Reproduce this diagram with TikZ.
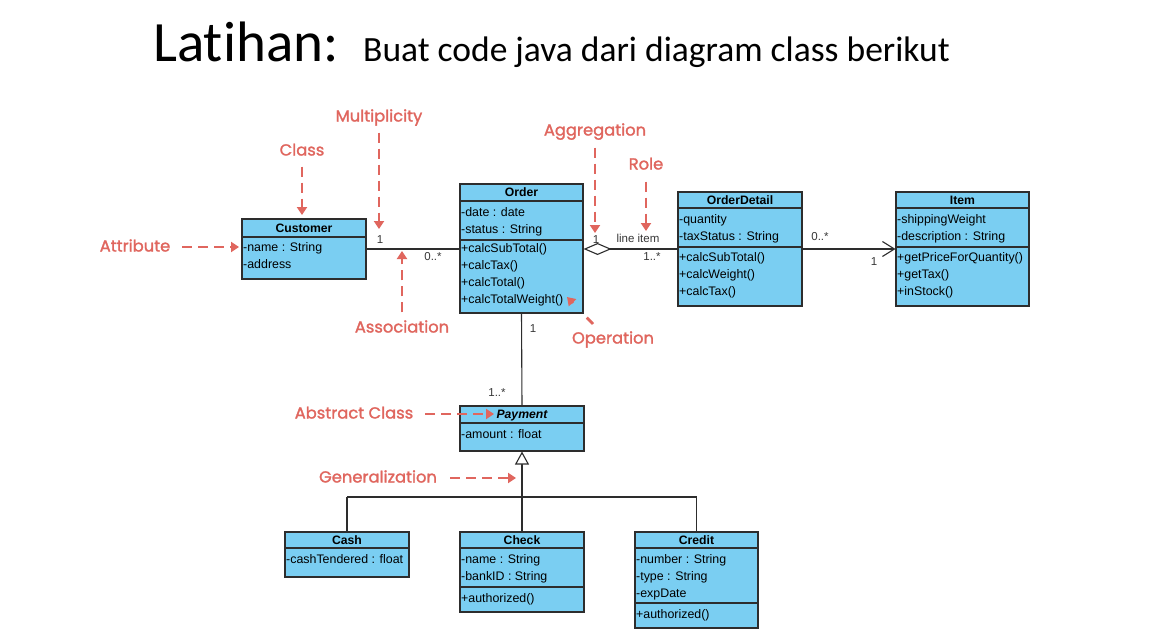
\documentclass[tikz,border=0pt]{standalone}
\usepackage{fontspec}
\setmainfont{Liberation Sans}
\newfontfamily\boxfont{Liberation Sans}
\newfontfamily\titlefont[Ligatures=NoCommon]{Carlito}
\newfontfamily\lblfont[FakeStretch=1.02, FakeBold=1.6]{Poppins}
\usetikzlibrary{arrows.meta,fit}
\definecolor{boxfill}{RGB}{122,206,242}
\definecolor{boxline}{RGB}{45,45,45}
\definecolor{annored}{RGB}{224,102,94}
\definecolor{multtext}{RGB}{55,55,55}
\newcommand\umlbox[5]{\node[cls, fit={(#2,#3) (#4,#5)}] (#1) {};}
\begin{document}
\begin{tikzpicture}[x=1pt,y=-1pt,
  cls/.style={draw=boxline, fill=boxfill, line width=1.1pt, inner sep=0pt},
  sepl/.style={draw=boxline, line width=1.1pt},
  mem/.style={font=\boxfont\fontsize{12.4}{13}\selectfont, anchor=west, inner sep=0pt, text height=8.8pt, text depth=0.6pt},
  head/.style={font=\boxfont\bfseries\fontsize{12.2}{13}\selectfont, inner sep=0pt, text height=8.8pt, text depth=0.6pt},
  mult/.style={font=\boxfont\fontsize{11.5}{12}\selectfont, text=multtext, inner sep=0pt, text height=8.3pt, text depth=0.5pt},
  conn/.style={draw=boxline, line width=1.1pt},
  lbl/.style={font=\lblfont\fontsize{16}{18}\selectfont, text=annored, inner sep=0pt, text height=12pt, text depth=3pt},
  anno/.style={draw=annored, line width=2.8pt, dash pattern=on 10pt off 6pt, -{Triangle[width=10pt,length=8pt]}}
]
\fill[white] (0,0) rectangle (1149,642);
\useasboundingbox (0,0) rectangle (1149,642);

% title
\node[font=\titlefont\fontsize{57}{60}\selectfont, anchor=base west, inner sep=0pt] (title) at (153,62) {Latihan:};
\node[font=\titlefont\fontsize{35.5}{40}\selectfont, anchor=base west, inner sep=0pt] (subtitle) at (363,62) {Buat code java dari diagram class berikut};

% Customer
\umlbox{Customer}{242}{219}{366}{279}
\node[head] (hCustomer) at (304,228) {Customer};
\draw[sepl] (242,237) -- (366,237);
\node[mem] (cu1) at (243,247) {-name : String};
\node[mem] (cu2) at (243,264) {-address};

% Order
\umlbox{Order}{460}{184}{583}{313}
\node[head] (hOrder) at (521.5,192) {Order};
\draw[sepl] (460,201) -- (583,201);
\draw[sepl] (460,240) -- (583,240);
\node[mem] (or1) at (461,212) {-date : date};
\node[mem] (or2) at (461,229) {-status : String};
\node[mem] (or3) at (461,248) {+calcSubTotal()};
\node[mem] (or4) at (461,265) {+calcTax()};
\node[mem] (or5) at (461,282) {+calcTotal()};
\node[mem] (or6) at (461,299) {+calcTotalWeight()};

% OrderDetail
\umlbox{OrderDetail}{678}{192}{802}{306}
\node[head] (hOrderDetail) at (740,200) {OrderDetail};
\draw[sepl] (678,208) -- (802,208);
\draw[sepl] (678,247) -- (802,247);
\node[mem] (od1) at (679,219) {-quantity};
\node[mem] (od2) at (679,236) {-taxStatus : String};
\node[mem] (od3) at (679,257) {+calcSubTotal()};
\node[mem] (od4) at (679,274) {+calcWeight()};
\node[mem] (od5) at (679,291) {+calcTax()};

% Item
\umlbox{Item}{896}{192}{1029}{306}
\node[head] (hItem) at (962.5,200) {Item};
\draw[sepl] (896,208) -- (1029,208);
\draw[sepl] (896,247) -- (1029,247);
\node[mem] (it1) at (897,219) {-shippingWeight};
\node[mem] (it2) at (897,236) {-description : String};
\node[mem] (it3) at (897,257) {+getPriceForQuantity()};
\node[mem] (it4) at (897,274) {+getTax()};
\node[mem] (it5) at (897,291) {+inStock()};

% Payment
\umlbox{Payment}{460}{406}{584}{451}
\node[head] (hPayment) at (522,414) {\itshape Payment};
\draw[sepl] (460,423) -- (584,423);
\node[mem] (pa1) at (461,434) {-amount : float};

% Cash
\umlbox{Cash}{285}{532}{409}{577}
\node[head] (hCash) at (347,540) {Cash};
\draw[sepl] (285,548) -- (409,548);
\node[mem] (ca1) at (286,559) {-cashTendered : float};

% Check
\umlbox{Check}{460}{532}{584}{612}
\node[head] (hCheck) at (522,540) {Check};
\draw[sepl] (460,548) -- (584,548);
\draw[sepl] (460,587) -- (584,587);
\node[mem] (ch1) at (461,559) {-name : String};
\node[mem] (ch2) at (461,576) {-bankID : String};
\node[mem] (ch3) at (461,598) {+authorized()};

% Credit
\umlbox{Credit}{635}{532}{758}{628}
\node[head] (hCredit) at (696.5,540) {Credit};
\draw[sepl] (635,548) -- (758,548);
\draw[sepl] (635,603) -- (758,603);
\node[mem] (cr1) at (636,559) {-number : String};
\node[mem] (cr2) at (636,576) {-type : String};
\node[mem] (cr3) at (636,593) {-expDate};
\node[mem] (cr4) at (636,614) {+authorized()};

% connectors
\draw[conn] (Customer.east) -- (Customer.east -| Order.west);
\draw[conn, -{Diamond[open, length=28pt, width=12pt, line width=1.1pt]}] (OrderDetail.west) -- (OrderDetail.west -| Order.east);
\draw[conn, -{Straight Barb[length=12pt, width=15pt, line width=1.1pt]}] (OrderDetail.east) -- (OrderDetail.east -| Item.west);
\draw[conn] (Order.south) -- (Payment.north);
\coordinate (gj) at (522,497);
\draw[conn, -{Triangle[length=13pt, width=14pt, fill=white, line width=1.1pt]}] (gj) -- (Payment.south);
\draw[conn] (Cash.north |- gj) -- (Credit.north |- gj);
\draw[conn] (Cash.north |- gj) -- (Cash.north);
\draw[conn] (gj) -- (Check.north);
\draw[conn] (Credit.north |- gj) -- (Credit.north);

% multiplicities
\node[mult] (m1) at (380,240) {1};
\node[mult] (m2) at (433,257) {0..*};
\node[mult] (m3) at (596,240) {1};
\node[mult] (m4) at (638,239) {line item};
\node[mult] (m5) at (652,257) {1..*};
\node[mult] (m6) at (820,237) {0..*};
\node[mult] (m7) at (874,262) {1};
\node[mult] (m8) at (533,329) {1};
\node[mult] (m9) at (497,393) {1..*};

% annotations
\node[lbl] (lClass) at (302,151) {Class};
\node[lbl] (lMult) at (379,117) {Multiplicity};
\node[lbl] (lAttr) at (135,247) {Attribute};
\node[lbl] (lAssoc) at (402,328) {Association};
\node[lbl] (lAggr) at (595,131) {Aggregation};
\node[lbl] (lRole) at (646,165) {Role};
\node[lbl] (lOper) at (613,339) {Operation};
\node[lbl] (lAbst) at (354,414) {Abstract Class};
\node[lbl] (lGen) at (378,478) {Generalization};

\coordinate (tClass) at (302,215);
\coordinate (tMult) at (379,229);
\coordinate (tAttr) at (239,247);
\coordinate (tAssoc) at (402,251);
\coordinate (tAggr) at (595,233);
\coordinate (tRole) at (646,231);
\coordinate (tOper) at (567,297);
\coordinate (tAbst) at (494,414);
\coordinate (tGen) at (516,478);
\coordinate (sOper) at (593,324);

\draw[anno, shorten <=8pt] (lClass.south) -- (tClass);
\draw[anno, shorten <=8pt] (lMult.south) -- (tMult);
\draw[anno, shorten <=12pt] (lAttr.east) -- (tAttr);
\draw[anno, shorten <=8pt] (lAssoc.north) -- (tAssoc);
\draw[anno, shorten <=9pt] (lAggr.south) -- (tAggr);
\draw[anno, shorten <=9pt] (lRole.south) -- (tRole);
\draw[anno, dash pattern=on 9pt off 20pt] (sOper) -- (tOper);
\draw[anno, shorten <=12pt] (lAbst.east) -- (tAbst);
\draw[anno, shorten <=13pt] (lGen.east) -- (tGen);
\end{tikzpicture}
\end{document}
